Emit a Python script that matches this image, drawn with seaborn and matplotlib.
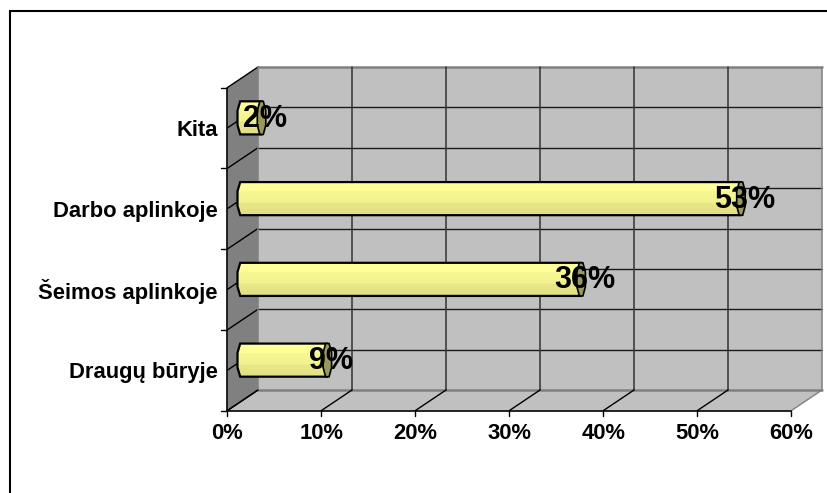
import numpy as np
import matplotlib
matplotlib.use("Agg")
import matplotlib.pyplot as plt
from matplotlib.patches import Polygon, Rectangle
from matplotlib.colors import LinearSegmentedColormap
import seaborn as sns
import pandas as pd

categories = ["Kita", "Darbo aplinkoje", "Šeimos aplinkoje", "Draugų būryje"]
values = [2, 53, 36, 9]
xticks = [0, 10, 20, 30, 40, 50, 60]
xticklabels = ["0%", "10%", "20%", "30%", "40%", "50%", "60%"]

W, H = 828, 493
FX0, FX1, FY0, FY1 = 227.5, 791.5, 87.5, 410.5   # front plane
DX, DY = 30.5, -20.5                             # depth vector
BX, BY = 15, -10                                 # bar depth
FONT = "Liberation Sans"

sns.set_theme(style="white")
plt.rcParams["font.family"] = [FONT, "DejaVu Sans"]
fig = plt.figure(figsize=(W / 100, H / 100), dpi=100, facecolor="white")

def pix_axes(x0, x1, y0, y1, z):
    return fig.add_axes([x0 / W, 1 - y1 / H, (x1 - x0) / W, (y1 - y0) / H], zorder=z)

# chrome in pixel coordinates
bg = fig.add_axes([0, 0, 1, 1], zorder=0)
bg.set_xlim(0, W); bg.set_ylim(H, 0); bg.axis("off")
bg.plot([10, 10, W], [H, 11, 11], color="black", lw=1.5, solid_joinstyle="miter")
GREY, WALL = "#c0c0c0", "#808080"
bg.add_patch(Rectangle((FX0 + DX, FY0 + DY), FX1 - FX0, FY1 - FY0, fc=GREY, ec="none"))
bg.add_patch(Polygon([(FX0, FY1), (FX1, FY1), (FX1 + DX, FY1 + DY), (FX0 + DX, FY1 + DY)], fc=GREY, ec="none"))
bg.add_patch(Polygon([(FX0, FY0), (FX0 + DX, FY0 + DY), (FX0 + DX, FY1 + DY), (FX0, FY1)], fc=WALL, ec="none"))
n = len(categories)
step_y = (FY1 - FY0) / n
# horizontal gridlines: boundaries and category centres
for i in range(2 * n + 1):
    y = FY0 + i * step_y / 2
    edge = i in (0, 2 * n)
    bg.plot([FX0 + DX, FX1 + DX], [y + DY, y + DY], color="#808080" if edge else "#1a1a1a",
            lw=1.8 if edge else 1, zorder=2)
    bg.plot([FX0, FX0 + DX], [y, y + DY], color="black", lw=1, zorder=2)
    if i % 2 == 0:
        bg.plot([FX0 - 6, FX0], [y, y], color="black", lw=1, zorder=2)
for t in xticks:
    x = FX0 + (FX1 - FX0) * t / xticks[-1]
    edge = t in (xticks[0], xticks[-1])
    bg.plot([x + DX, x + DX], [FY0 + DY, FY1 + DY], color="#808080" if edge else "#333333", lw=1.1, zorder=2)
    bg.plot([x, x + DX], [FY1, FY1 + DY], color="#808080" if t == xticks[-1] else "black", lw=1, zorder=2)
    bg.plot([x, x], [FY1, FY1 + 5], color="black", lw=1, zorder=2)
bg.plot([FX0, FX0], [FY0, FY1], color="black", lw=1.2, zorder=3)
bg.plot([FX0, FX1], [FY1, FY1], color="black", lw=1.2, zorder=3)

# labels on the front plane
front = pix_axes(FX0, FX1, FY0, FY1, 1)
front.patch.set_alpha(0)
front.set_xlim(0, 60); front.set_ylim(n - 0.5, -0.5)
front.set_xticks(xticks, xticklabels, fontsize=15.8, fontweight="bold", color="black")
front.set_yticks(range(n), categories, fontsize=15.8, fontweight="bold", color="black")
front.tick_params(axis="x", length=0, pad=9)
front.tick_params(axis="y", length=0, pad=7)
for s in front.spines.values():
    s.set_visible(False)

# bars, shifted to mid depth
ax = pix_axes(FX0 + BX, FX1 + BX, FY0 + BY, FY1 + BY, 2)
df = pd.DataFrame({"category": categories, "value": values})
sns.barplot(data=df, y="category", x="value", order=categories, orient="h",
            color="#ffff99", width=0.41, saturation=1, ax=ax, edgecolor="none")
ax.set_xlim(0, 60); ax.set_ylim(n - 0.5, -0.5)
ax.patch.set_alpha(0); ax.axis("off")

cm = LinearSegmentedColormap.from_list("b", [(0, "#ffff99"), (0.28, "#ffff99"), (0.3, "#f6f692"),
                                              (0.62, "#f2f28e"), (0.65, "#e8e888"), (1, "#e0e084")])
px_x = (FX1 - FX0) / 60
for bar, v in zip(list(ax.patches), values):
    y0, h = bar.get_y(), bar.get_height()
    y1 = y0 + h
    ex, cx, cap = 5 / px_x, 3 / px_x, 5 / px_x
    yc = h * 0.14
    outline = [(-ex, y0 + 2 * yc), (-ex + cx * .9, y0), (v, y0), (v, y1), (-ex + cx * .9, y1), (-ex, y1 - 2 * yc)]
    fill = Polygon(outline, closed=True, fc="none", ec="none", clip_on=False)
    ax.add_patch(fill)
    im = ax.imshow(np.linspace(0, 1, 64)[:, None], cmap=cm, aspect="auto", extent=(-ex, v, y1, y0), zorder=3)
    im.set_clip_box(fig.bbox)
    im.set_clip_path(fill)
    ax.add_patch(Polygon(outline, closed=True, fc="none", ec="black", lw=1.6, zorder=4, clip_on=False))
    bar.set_visible(False)
    capshape = [(v - cap * .8, y0 + 2 * yc), (v - cap * .3, y0), (v + cap * .4, y0), (v + cap * .9, y0 + 2 * yc),
                (v + cap * .9, y1 - 2 * yc), (v + cap * .4, y1), (v - cap * .3, y1), (v - cap * .8, y1 - 2 * yc)]
    ax.add_patch(Polygon(capshape, closed=True, fc="#99995c", ec="black", lw=1.2, zorder=5, clip_on=False))
    ax.annotate(f"{v}%", (v, y0 + h / 2), xytext=(4, -1), textcoords="offset pixels", ha="center",
                va="center", fontsize=22, fontweight="bold", color="black", zorder=6, annotation_clip=False)
ax.set_xlim(0, 60); ax.set_ylim(n - 0.5, -0.5)

fig.savefig("out.png", dpi=100)
